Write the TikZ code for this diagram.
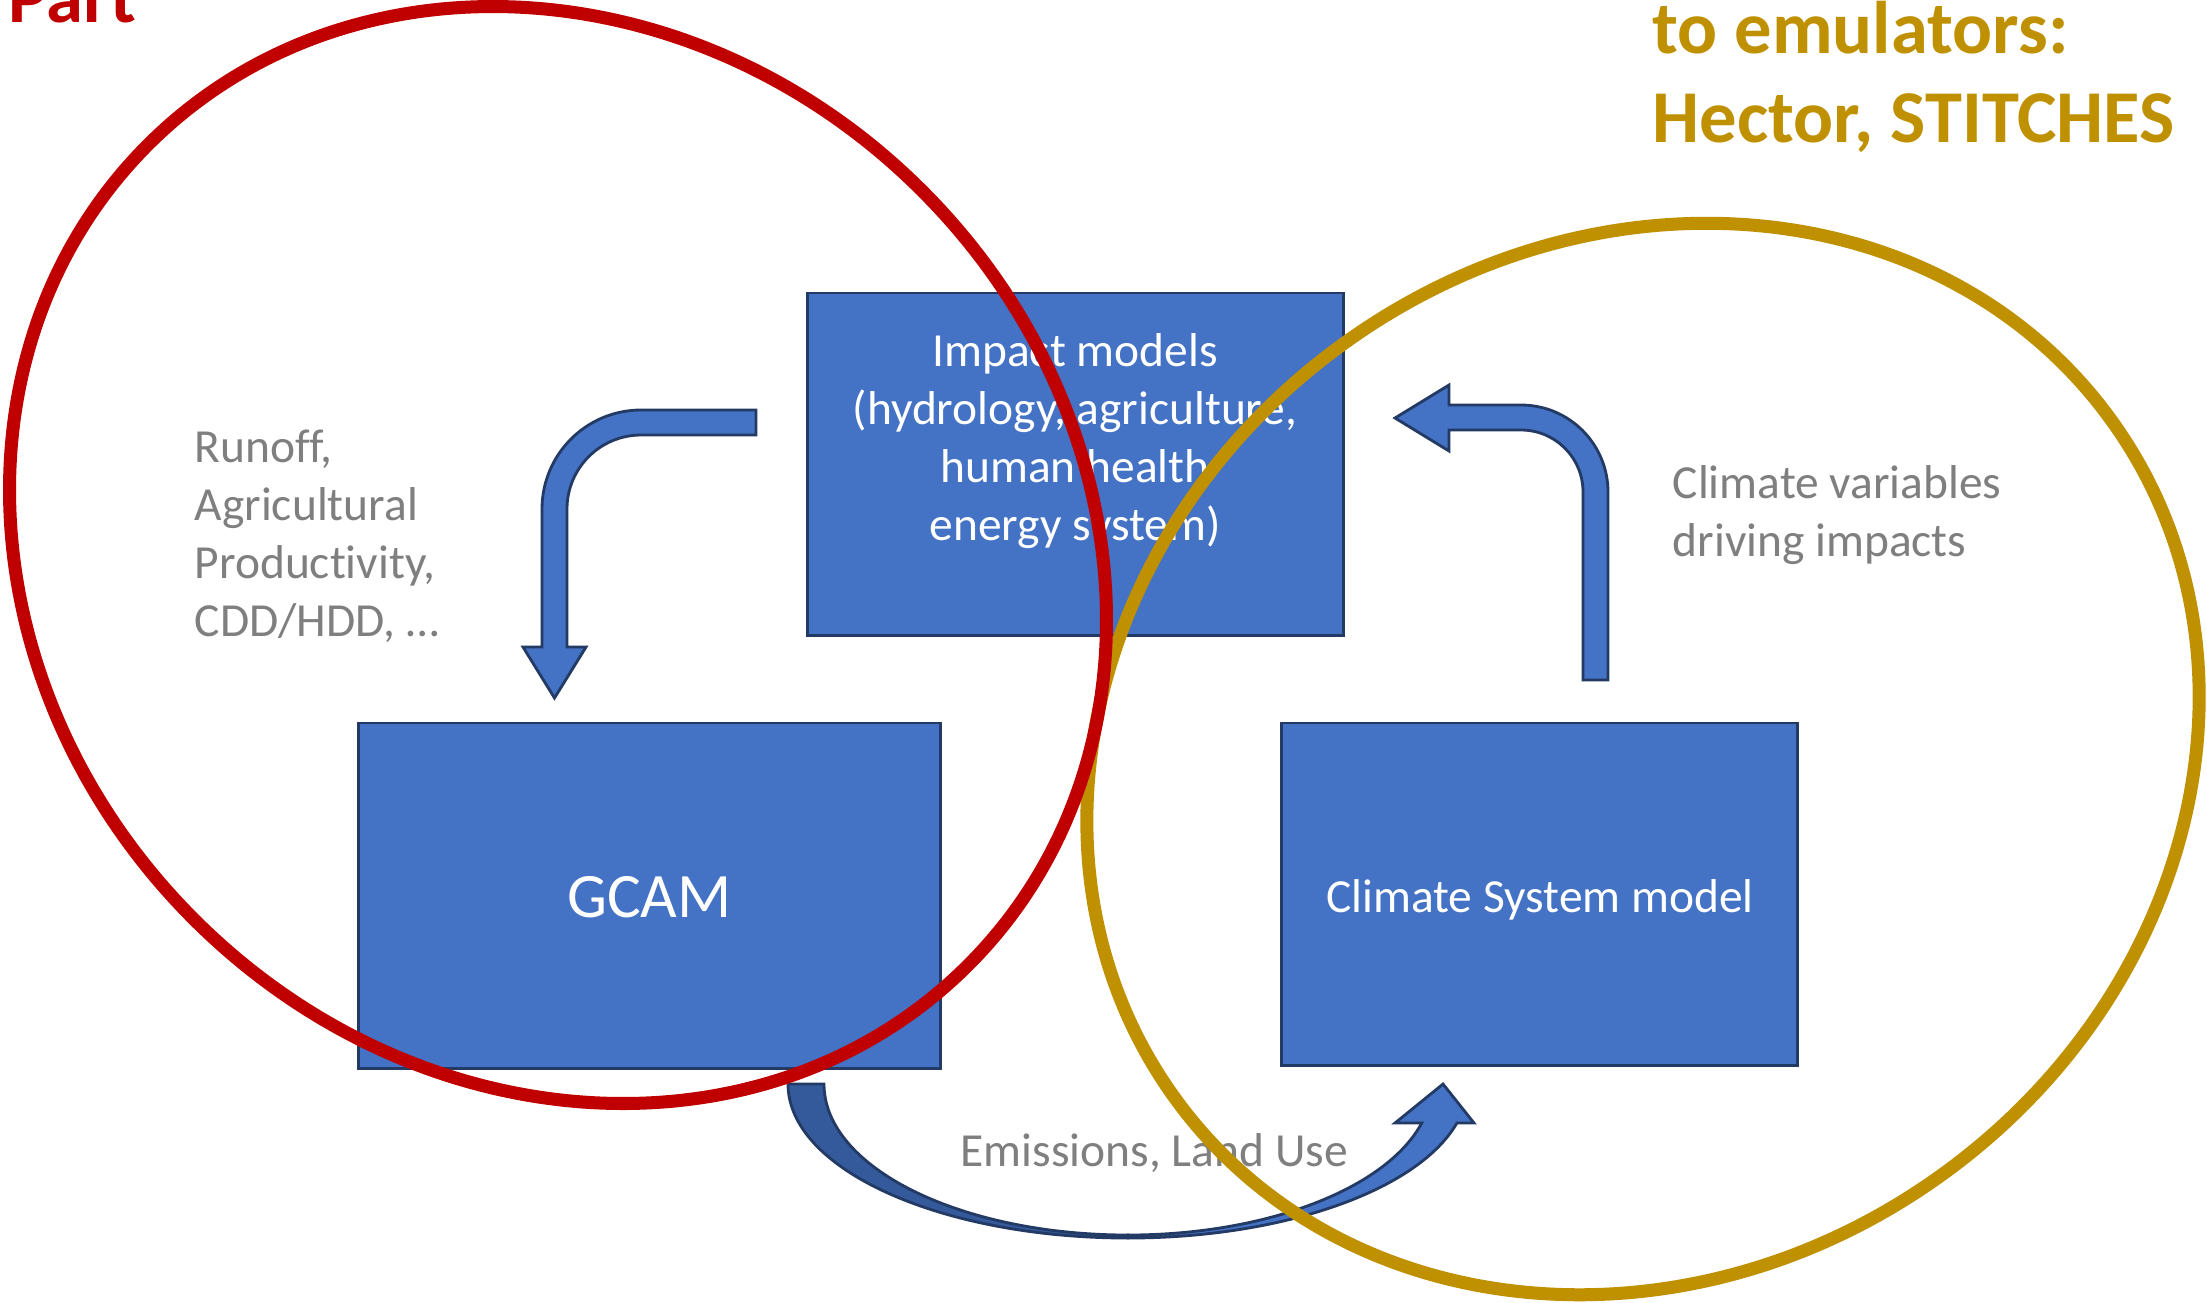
\documentclass[tikz,border=0pt]{standalone}
\usepackage{fontspec}
\setmainfont{Carlito}[Ligatures=NoCommon]
\definecolor{boxblue}{HTML}{4472C4}
\definecolor{boxline}{HTML}{233A64}
\definecolor{darkblue}{HTML}{345A9C}
\definecolor{ringred}{HTML}{C00000}
\definecolor{ringgold}{HTML}{BF9000}
\definecolor{labelgray}{HTML}{7F7F7F}
\begin{document}
\begin{tikzpicture}[x=0.01cm,y=0.01cm,
  modelbox/.style={draw=boxline, fill=boxblue, line width=0.8pt, inner sep=0pt},
  blockarrow/.style={draw=boxline, fill=boxblue, line width=0.8pt, line join=miter},
  bodytext/.style={font=\fontsize{13.5}{16.5}\selectfont, inner sep=0pt},
  whitetext/.style={bodytext, text=white, anchor=base},
  graytext/.style={bodytext, text=labelgray, anchor=base west},
  bigtext/.style={font=\fontsize{18}{22}\selectfont, inner sep=0pt, text=white},
  titletext/.style={font=\fontsize{21.2}{25}\selectfont\bfseries, inner sep=0pt, anchor=base west},
  ring/.style={line width=0.13cm}]
\useasboundingbox (0,0) rectangle (2207,-1302);
\fill[white] (0,0) rectangle (2207,-1302);
\clip (0,0) rectangle (2207,-1302);

% model boxes
\node[modelbox, minimum width=5.35cm, minimum height=3.42cm] (impact) at (1075.5,-464) {};
\node[modelbox, minimum width=5.81cm, minimum height=3.45cm] (gcam) at (649.5,-895.5) {};
\node[modelbox, minimum width=5.15cm, minimum height=3.42cm] (climate) at (1539.5,-894) {};

% bent arrow: impact models -> GCAM
\coordinate (bendA) at (756,-410);
\draw[blockarrow] (bendA) -- (641,-410) arc[start angle=90, end angle=180, radius=99]
  -- (542,-647) -- (523,-647) -- (554.5,-698) -- (586,-647) -- (567,-647) -- (567,-509)
  arc[start angle=180, end angle=90, radius=74] -- (756,-435) -- cycle;

% bent arrow: climate -> impact models
\coordinate (bendB) at (1583,-680);
\draw[blockarrow] (bendB) -- (1608,-680) -- (1608,-492) arc[start angle=0, end angle=90, radius=87]
  -- (1449,-405) -- (1449,-385) -- (1395,-418) -- (1449,-451) -- (1449,-430) -- (1521,-430)
  arc[start angle=90, end angle=0, radius=62] -- cycle;

% curved arrow: GCAM -> climate (back part, darker)
\coordinate (curveL) at (788,-1084);
\draw[blockarrow, fill=darkblue] (curveL) arc[start angle=180, end angle=270, x radius=340, y radius=154]
  -- (1128,-1235) arc[start angle=270, end angle=180, x radius=304, y radius=151] -- cycle;
% front part with head
\coordinate (curveB) at (1128,-1238);
\draw[blockarrow] (curveB) arc[start angle=270, end angle=345.33, x radius=340, y radius=154]
  -- (1474,-1123) -- (1443,-1084) -- (1395,-1123) -- (1421.7,-1123)
  arc[start angle=345.03, end angle=270, x radius=304, y radius=151] -- cycle;

% box texts
\node[whitetext] (imp1) at (1075,-366) {Impact models};
\node[whitetext] (imp2) at (1075,-424) {(hydrology, agriculture,};
\node[whitetext] (imp3) at (1075,-482) {human health};
\node[whitetext] (imp4) at (1075,-540) {energy system)};
\node[bigtext] (gcamtext) at ([yshift=-0.015cm]gcam.center) {GCAM};
\node[whitetext] (climtext) at (1540,-912) {Climate System model};

% gray labels
\node[graytext] (run1) at (194,-462) {Runoff,};
\node[graytext] (run2) at (194,-520) {Agricultural};
\node[graytext] (run3) at (194,-578) {Productivity,};
\node[graytext] (run4) at (194,-636) {CDD/HDD, …};
\node[graytext] (cv1) at (1672,-498) {Climate variables};
\node[graytext] (cv2) at (1672,-556) {driving impacts};
\node[graytext] (emis) at (960,-1166) {Emissions, Land Use};

% titles
\node[titletext, text=ringgold] (gold1) at (1652,-53) {to emulators:};
\node[titletext, text=ringgold] (gold2) at (1652,-142) {Hector, STITCHES};
\node[titletext, text=ringred] (redtitle) at (8,-22) {Part};

% rings
\draw[ring, ringgold, rotate around={36:(1643,-759)}] (1643,-759) ellipse[x radius=578, y radius=512];
\draw[ring, ringred, rotate around={-45:(558,-555)}] (558,-555) ellipse[x radius=580, y radius=515];
\end{tikzpicture}
\end{document}
